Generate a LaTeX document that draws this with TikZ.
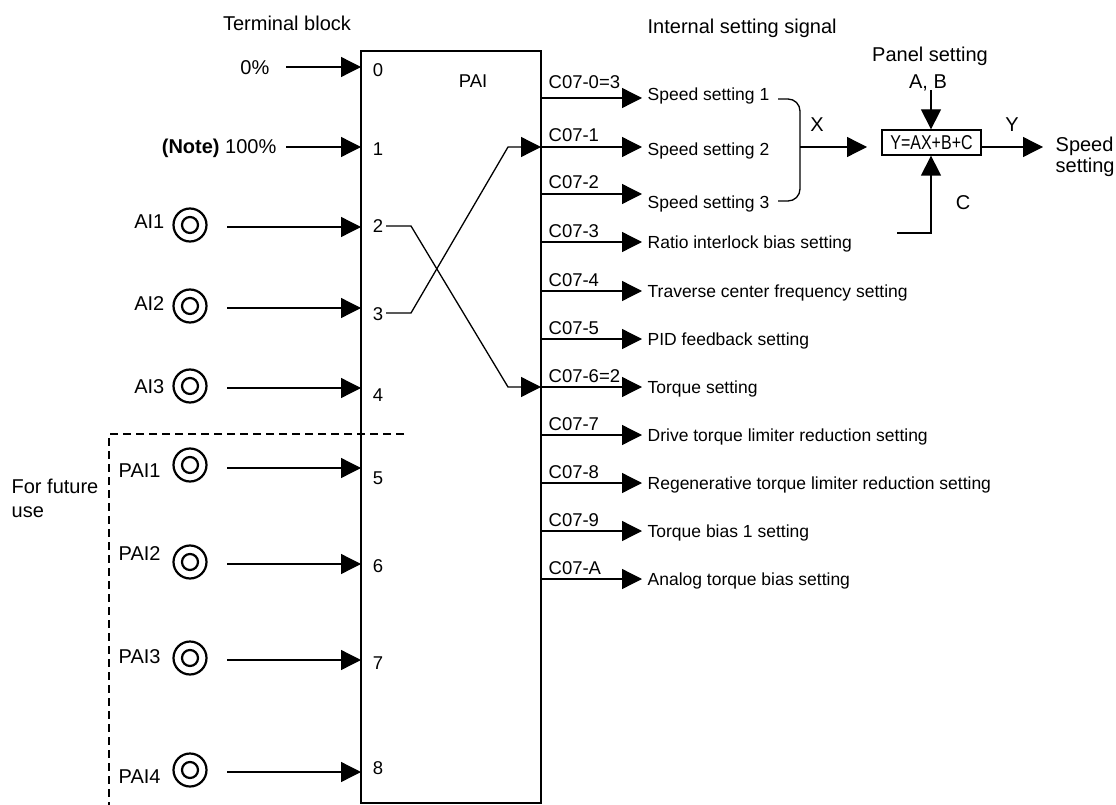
\documentclass[tikz,border=0pt]{standalone}
\usepackage{fontspec}
\setmainfont{Liberation Sans}
\usetikzlibrary{arrows.meta}
\newcommand\tbig{\fontsize{20}{24}\selectfont}
\newcommand\tmid{\fontsize{18.5}{22}\selectfont}
\newcommand\tsmall{\fontsize{17.5}{21}\selectfont}
\begin{document}
\begin{tikzpicture}[x=1pt,y=-1pt,line width=1.3pt,
  arr/.style={-{Triangle[length=20pt,width=20pt]}},
  txt/.style={inner sep=0pt,font=\tbig},
  num/.style={inner sep=0pt,font=\tmid,anchor=base},
  outl/.style={inner sep=0pt,font=\tsmall,anchor=base west},
  cl/.style={inner sep=0pt,font=\tmid,anchor=base west},
  jack/.style={draw,circle,line width=2.2pt,inner sep=0pt}]
\useasboundingbox (0,0) rectangle (1116,805);

% main terminal block
\node[draw,inner sep=0pt,minimum width=180pt,minimum height=752pt] (pai) at (451,427) {};
\node[txt,anchor=base] (title1) at (287,31) {Terminal block};
\node[txt,anchor=base west] (title2) at (647,34) {Internal setting signal};
\node[num] (pailbl) at (473,88) {PAI};

% terminal numbers and entry points
\foreach \k/\y/\b in {0/67/77,1/147/156,2/227/233,3/308/320,4/388/401,5/468/484,6/564/572,7/660/669,8/772/774}{
  \coordinate (t\k) at (361,\y);
  \node[num] (n\k) at (378,\b) {\k};
}

% fixed inputs
\node[txt,anchor=base east] (s0) at (270,75) {0\%};
\node[txt,anchor=base east] (s1) at (277,154) {\textbf{(Note)} 100\%};
\coordinate (a0) at (286,67);
\coordinate (a1) at (286,147);
\draw[arr] (a0) -- (t0);
\draw[arr] (a1) -- (t1);

% analog inputs (jacks)
\foreach \k/\cy/\ly/\lab/\t in {2/225/229/AI1/2,3/306/310/AI2/3,4/386/393/AI3/4}{
  \node[jack,minimum size=33pt] (j\k) at (190,\cy) {};
  \node[jack,minimum size=16pt] (ji\k) at (190,\cy) {};
  \node[txt,anchor=base east] (jl\k) at (165,\ly) {\lab};
}
\foreach \k/\cy/\ly/\lab in {5/465/477/PAI1,6/562/560/PAI2,7/658/663/PAI3,8/770/783/PAI4}{
  \node[jack,minimum size=33pt] (j\k) at (190,\cy) {};
  \node[jack,minimum size=16pt] (ji\k) at (190,\cy) {};
  \node[txt,anchor=base west] (jl\k) at (118,\ly) {\lab};
}
\foreach \k/\y in {2/227,3/308,4/388,5/468,6/564,7/660,8/772}{
  \coordinate (a\k) at (227,\y);
  \draw[arr] (a\k) -- (t\k);
}

% future-use region
\coordinate (d1) at (404,434);
\coordinate (d2) at (109,434);
\coordinate (d3) at (109,805);
\draw[line width=1.2pt,dash pattern=on 8pt off 5pt] (d1) -- (d2) -- (d3);
\node[txt,anchor=base west] (fu1) at (11,493) {For future};
\node[txt,anchor=base west] (fu2) at (11,517) {use};

% outputs
\foreach \k/\y/\c/\cb/\t/\tb in {
  0/98/C07-0=3/89/Speed setting 1/101,
  1/147/C07-1/142/Speed setting 2/156,
  2/194/C07-2/189/Speed setting 3/208,
  3/242/C07-3/237/Ratio interlock bias setting/248,
  4/291/C07-4/286/Traverse center frequency setting/297,
  5/339/C07-5/334/PID feedback setting/345,
  6/387/C07-6=2/382/Torque setting/393,
  7/435/C07-7/430/Drive torque limiter reduction setting/441,
  8/483/C07-8/478/Regenerative torque limiter reduction setting/489,
  9/531/C07-9/526/Torque bias 1 setting/537,
  A/579/C07-A/574/Analog torque bias setting/585}{
  \coordinate (o\k) at (541,\y);
  \coordinate (e\k) at (642,\y);
  \node[cl] (c\k) at (548,\cb) {\c};
  \node[outl] (L\k) at (647,\tb) {\t};
  \draw[arr] (o\k) -- (e\k);
}

% crossing routes inside the block
\coordinate (x2a) at (386,226);
\coordinate (x2b) at (411,226);
\coordinate (x2c) at (508,387);
\coordinate (x3a) at (386,313);
\coordinate (x3b) at (411,313);
\coordinate (x3c) at (508,147);
\draw[arr] (x2a) -- (x2b) -- (x2c) -- (o6);
\draw[arr] (x3a) -- (x3b) -- (x3c) -- (o1);

% bracket combining speed settings
\coordinate (b1) at (778,99);
\coordinate (b2) at (800,99);
\coordinate (b3) at (800,201);
\coordinate (b4) at (778,201);
\coordinate (bm) at (800,147);
\draw[rounded corners=12pt] (b1) -- (b2) -- (b3) -- (b4);
\node[txt,anchor=base] (xl) at (817,132) {X};

% equation block
\node[draw,inner sep=0pt,minimum width=99pt,minimum height=25pt] (eq) at (931.5,142.5) {\tbig\scalebox{0.8}[1]{Y=AX+B+C}};
\coordinate (xin) at (867,147);
\draw[arr] (bm) -- (xin);
\node[txt,anchor=base] (ps) at (930,62) {Panel setting};
\node[txt,anchor=base] (ab) at (928,89) {A, B};
\coordinate (abt) at (931,90);
\draw[arr] (abt) -- (abt |- eq.north);
\coordinate (cin) at (897,233);
\coordinate (cc) at (931,233);
\draw[arr] (cin) -- (cc) -- (cc |- eq.south);
\node[txt,anchor=base] (cl) at (963,210) {C};
\coordinate (yo) at (981,147);
\coordinate (ye) at (1043,147);
\draw[arr] (yo) -- (ye);
\node[txt,anchor=base] (yl) at (1012,132) {Y};
\node[txt,anchor=base west] (sp1) at (1055,152) {Speed};
\node[txt,anchor=base west] (sp2) at (1055,173) {setting};
\end{tikzpicture}
\end{document}
